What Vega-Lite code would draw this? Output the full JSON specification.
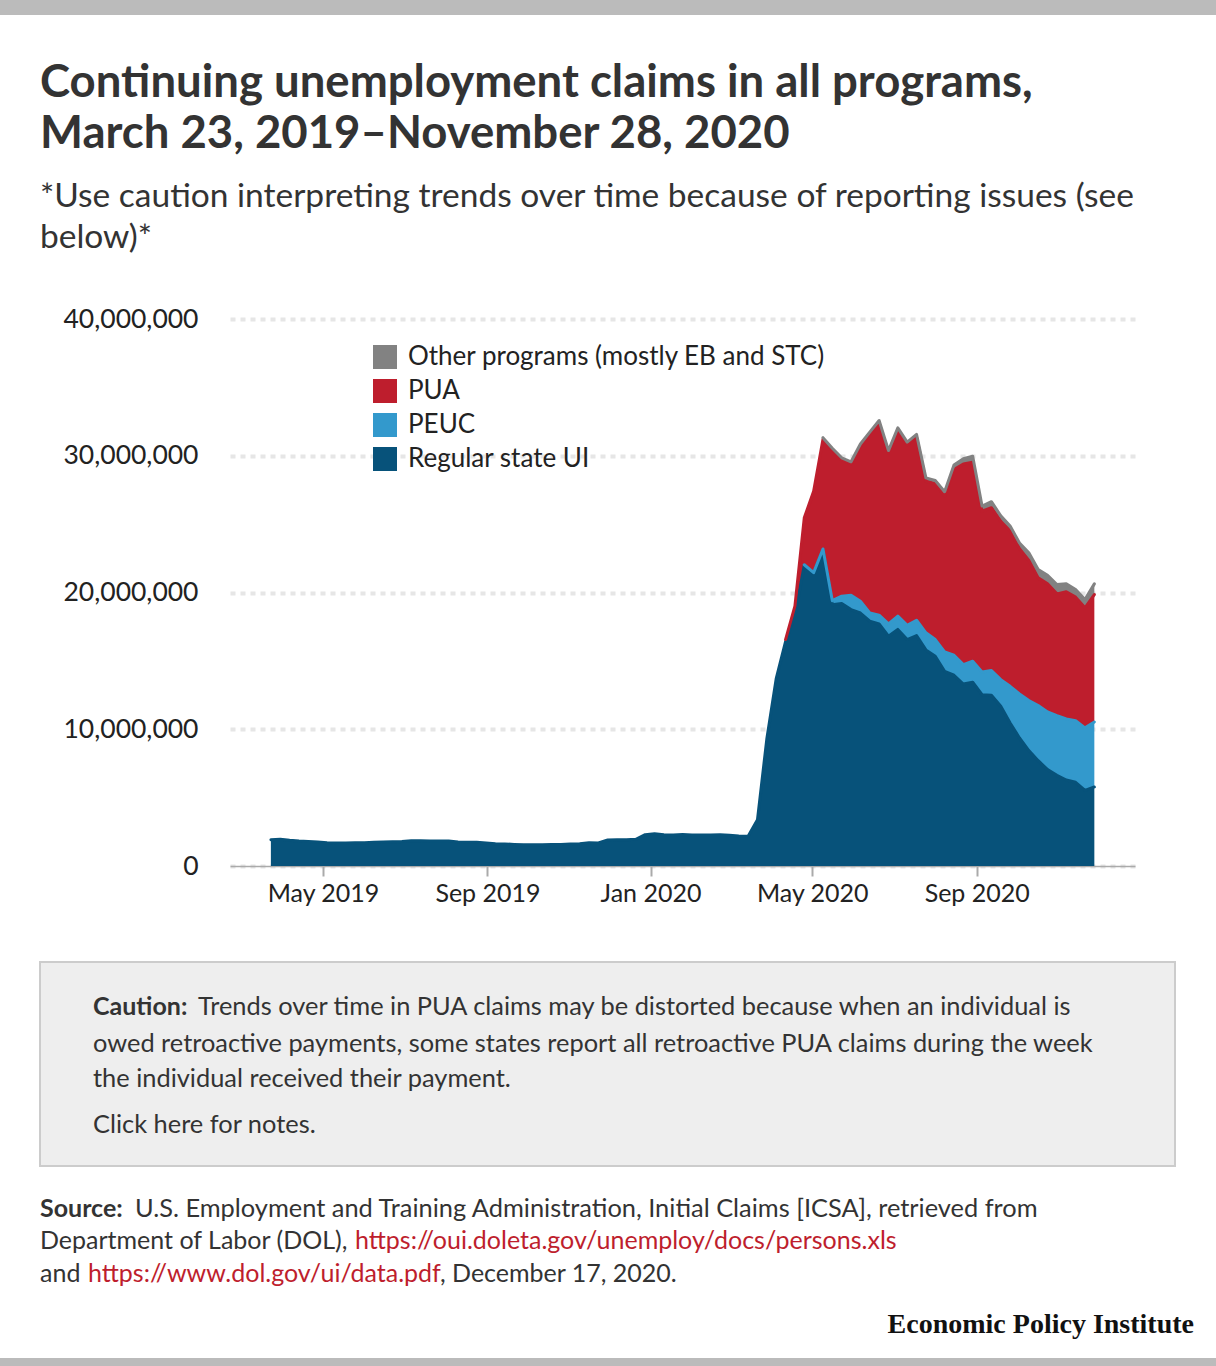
{
  "$schema": "https://vega.github.io/schema/vega-lite/v6.json",
  "width": 905,
  "height": 547,
  "autosize": "none",
  "padding": {"left": 230, "top": 319, "right": 81, "bottom": 500},
  "background": "white",
  "config": {"view": {"stroke": null}, "font": "Lato"},
  "datasets": {
    "claims": [
      {"week": "2019-03-23", "program": "Regular state UI", "claims": 1920000},
      {"week": "2019-03-30", "program": "Regular state UI", "claims": 1950000},
      {"week": "2019-04-06", "program": "Regular state UI", "claims": 1880000},
      {"week": "2019-04-13", "program": "Regular state UI", "claims": 1830000},
      {"week": "2019-04-20", "program": "Regular state UI", "claims": 1800000},
      {"week": "2019-04-27", "program": "Regular state UI", "claims": 1750000},
      {"week": "2019-05-04", "program": "Regular state UI", "claims": 1700000},
      {"week": "2019-05-11", "program": "Regular state UI", "claims": 1680000},
      {"week": "2019-05-18", "program": "Regular state UI", "claims": 1680000},
      {"week": "2019-05-25", "program": "Regular state UI", "claims": 1700000},
      {"week": "2019-06-01", "program": "Regular state UI", "claims": 1700000},
      {"week": "2019-06-08", "program": "Regular state UI", "claims": 1730000},
      {"week": "2019-06-15", "program": "Regular state UI", "claims": 1750000},
      {"week": "2019-06-22", "program": "Regular state UI", "claims": 1780000},
      {"week": "2019-06-29", "program": "Regular state UI", "claims": 1800000},
      {"week": "2019-07-06", "program": "Regular state UI", "claims": 1850000},
      {"week": "2019-07-13", "program": "Regular state UI", "claims": 1850000},
      {"week": "2019-07-20", "program": "Regular state UI", "claims": 1830000},
      {"week": "2019-07-27", "program": "Regular state UI", "claims": 1830000},
      {"week": "2019-08-03", "program": "Regular state UI", "claims": 1830000},
      {"week": "2019-08-10", "program": "Regular state UI", "claims": 1750000},
      {"week": "2019-08-17", "program": "Regular state UI", "claims": 1730000},
      {"week": "2019-08-24", "program": "Regular state UI", "claims": 1730000},
      {"week": "2019-08-31", "program": "Regular state UI", "claims": 1680000},
      {"week": "2019-09-07", "program": "Regular state UI", "claims": 1630000},
      {"week": "2019-09-14", "program": "Regular state UI", "claims": 1610000},
      {"week": "2019-09-21", "program": "Regular state UI", "claims": 1580000},
      {"week": "2019-09-28", "program": "Regular state UI", "claims": 1560000},
      {"week": "2019-10-05", "program": "Regular state UI", "claims": 1560000},
      {"week": "2019-10-12", "program": "Regular state UI", "claims": 1560000},
      {"week": "2019-10-19", "program": "Regular state UI", "claims": 1580000},
      {"week": "2019-10-26", "program": "Regular state UI", "claims": 1580000},
      {"week": "2019-11-02", "program": "Regular state UI", "claims": 1610000},
      {"week": "2019-11-09", "program": "Regular state UI", "claims": 1630000},
      {"week": "2019-11-16", "program": "Regular state UI", "claims": 1700000},
      {"week": "2019-11-23", "program": "Regular state UI", "claims": 1680000},
      {"week": "2019-11-30", "program": "Regular state UI", "claims": 1900000},
      {"week": "2019-12-07", "program": "Regular state UI", "claims": 1920000},
      {"week": "2019-12-14", "program": "Regular state UI", "claims": 1920000},
      {"week": "2019-12-21", "program": "Regular state UI", "claims": 1950000},
      {"week": "2019-12-28", "program": "Regular state UI", "claims": 2290000},
      {"week": "2020-01-04", "program": "Regular state UI", "claims": 2360000},
      {"week": "2020-01-11", "program": "Regular state UI", "claims": 2290000},
      {"week": "2020-01-18", "program": "Regular state UI", "claims": 2270000},
      {"week": "2020-01-25", "program": "Regular state UI", "claims": 2310000},
      {"week": "2020-02-01", "program": "Regular state UI", "claims": 2270000},
      {"week": "2020-02-08", "program": "Regular state UI", "claims": 2270000},
      {"week": "2020-02-15", "program": "Regular state UI", "claims": 2270000},
      {"week": "2020-02-22", "program": "Regular state UI", "claims": 2290000},
      {"week": "2020-02-29", "program": "Regular state UI", "claims": 2240000},
      {"week": "2020-03-07", "program": "Regular state UI", "claims": 2190000},
      {"week": "2020-03-14", "program": "Regular state UI", "claims": 2170000},
      {"week": "2020-03-21", "program": "Regular state UI", "claims": 3390000},
      {"week": "2020-03-28", "program": "Regular state UI", "claims": 9300000},
      {"week": "2020-04-04", "program": "Regular state UI", "claims": 13700000},
      {"week": "2020-04-11", "program": "Regular state UI", "claims": 16400000},
      {"week": "2020-04-18", "program": "Regular state UI", "claims": 18300000},
      {"week": "2020-04-25", "program": "Regular state UI", "claims": 22000000},
      {"week": "2020-05-02", "program": "Regular state UI", "claims": 21400000},
      {"week": "2020-05-09", "program": "Regular state UI", "claims": 23100000},
      {"week": "2020-05-16", "program": "Regular state UI", "claims": 19100000},
      {"week": "2020-05-23", "program": "Regular state UI", "claims": 19200000},
      {"week": "2020-05-30", "program": "Regular state UI", "claims": 18750000},
      {"week": "2020-06-06", "program": "Regular state UI", "claims": 18500000},
      {"week": "2020-06-13", "program": "Regular state UI", "claims": 17900000},
      {"week": "2020-06-20", "program": "Regular state UI", "claims": 17700000},
      {"week": "2020-06-27", "program": "Regular state UI", "claims": 16800000},
      {"week": "2020-07-04", "program": "Regular state UI", "claims": 17300000},
      {"week": "2020-07-11", "program": "Regular state UI", "claims": 16560000},
      {"week": "2020-07-18", "program": "Regular state UI", "claims": 16850000},
      {"week": "2020-07-25", "program": "Regular state UI", "claims": 15800000},
      {"week": "2020-08-01", "program": "Regular state UI", "claims": 15340000},
      {"week": "2020-08-08", "program": "Regular state UI", "claims": 14240000},
      {"week": "2020-08-15", "program": "Regular state UI", "claims": 13950000},
      {"week": "2020-08-22", "program": "Regular state UI", "claims": 13310000},
      {"week": "2020-08-29", "program": "Regular state UI", "claims": 13440000},
      {"week": "2020-09-05", "program": "Regular state UI", "claims": 12530000},
      {"week": "2020-09-12", "program": "Regular state UI", "claims": 12490000},
      {"week": "2020-09-19", "program": "Regular state UI", "claims": 11680000},
      {"week": "2020-09-26", "program": "Regular state UI", "claims": 10460000},
      {"week": "2020-10-03", "program": "Regular state UI", "claims": 9360000},
      {"week": "2020-10-10", "program": "Regular state UI", "claims": 8440000},
      {"week": "2020-10-17", "program": "Regular state UI", "claims": 7700000},
      {"week": "2020-10-24", "program": "Regular state UI", "claims": 7050000},
      {"week": "2020-10-31", "program": "Regular state UI", "claims": 6630000},
      {"week": "2020-11-07", "program": "Regular state UI", "claims": 6290000},
      {"week": "2020-11-14", "program": "Regular state UI", "claims": 6120000},
      {"week": "2020-11-21", "program": "Regular state UI", "claims": 5530000},
      {"week": "2020-11-28", "program": "Regular state UI", "claims": 5780000},
      {"week": "2020-04-25", "program": "PEUC", "claims": 30000},
      {"week": "2020-05-02", "program": "PEUC", "claims": 50000},
      {"week": "2020-05-09", "program": "PEUC", "claims": 80000},
      {"week": "2020-05-16", "program": "PEUC", "claims": 300000},
      {"week": "2020-05-23", "program": "PEUC", "claims": 530000},
      {"week": "2020-05-30", "program": "PEUC", "claims": 1050000},
      {"week": "2020-06-06", "program": "PEUC", "claims": 860000},
      {"week": "2020-06-13", "program": "PEUC", "claims": 600000},
      {"week": "2020-06-20", "program": "PEUC", "claims": 640000},
      {"week": "2020-06-27", "program": "PEUC", "claims": 900000},
      {"week": "2020-07-04", "program": "PEUC", "claims": 970000},
      {"week": "2020-07-11", "program": "PEUC", "claims": 1040000},
      {"week": "2020-07-18", "program": "PEUC", "claims": 1120000},
      {"week": "2020-07-25", "program": "PEUC", "claims": 1250000},
      {"week": "2020-08-01", "program": "PEUC", "claims": 1220000},
      {"week": "2020-08-08", "program": "PEUC", "claims": 1420000},
      {"week": "2020-08-15", "program": "PEUC", "claims": 1460000},
      {"week": "2020-08-22", "program": "PEUC", "claims": 1420000},
      {"week": "2020-08-29", "program": "PEUC", "claims": 1530000},
      {"week": "2020-09-05", "program": "PEUC", "claims": 1660000},
      {"week": "2020-09-12", "program": "PEUC", "claims": 1800000},
      {"week": "2020-09-19", "program": "PEUC", "claims": 1950000},
      {"week": "2020-09-26", "program": "PEUC", "claims": 2680000},
      {"week": "2020-10-03", "program": "PEUC", "claims": 3220000},
      {"week": "2020-10-10", "program": "PEUC", "claims": 3660000},
      {"week": "2020-10-17", "program": "PEUC", "claims": 4030000},
      {"week": "2020-10-24", "program": "PEUC", "claims": 4220000},
      {"week": "2020-10-31", "program": "PEUC", "claims": 4370000},
      {"week": "2020-11-07", "program": "PEUC", "claims": 4460000},
      {"week": "2020-11-14", "program": "PEUC", "claims": 4510000},
      {"week": "2020-11-21", "program": "PEUC", "claims": 4570000},
      {"week": "2020-11-28", "program": "PEUC", "claims": 4750000},
      {"week": "2020-04-11", "program": "PUA", "claims": 160000},
      {"week": "2020-04-18", "program": "PUA", "claims": 700000},
      {"week": "2020-04-25", "program": "PUA", "claims": 3430000},
      {"week": "2020-05-02", "program": "PUA", "claims": 5950000},
      {"week": "2020-05-09", "program": "PUA", "claims": 8020000},
      {"week": "2020-05-16", "program": "PUA", "claims": 11000000},
      {"week": "2020-05-23", "program": "PUA", "claims": 9970000},
      {"week": "2020-05-30", "program": "PUA", "claims": 9600000},
      {"week": "2020-06-06", "program": "PUA", "claims": 11340000},
      {"week": "2020-06-13", "program": "PUA", "claims": 13060000},
      {"week": "2020-06-20", "program": "PUA", "claims": 14060000},
      {"week": "2020-06-27", "program": "PUA", "claims": 12500000},
      {"week": "2020-07-04", "program": "PUA", "claims": 13580000},
      {"week": "2020-07-11", "program": "PUA", "claims": 13200000},
      {"week": "2020-07-18", "program": "PUA", "claims": 13390000},
      {"week": "2020-07-25", "program": "PUA", "claims": 11090000},
      {"week": "2020-08-01", "program": "PUA", "claims": 11390000},
      {"week": "2020-08-08", "program": "PUA", "claims": 11390000},
      {"week": "2020-08-15", "program": "PUA", "claims": 13590000},
      {"week": "2020-08-22", "program": "PUA", "claims": 14670000},
      {"week": "2020-08-29", "program": "PUA", "claims": 14560000},
      {"week": "2020-09-05", "program": "PUA", "claims": 11760000},
      {"week": "2020-09-12", "program": "PUA", "claims": 11910000},
      {"week": "2020-09-19", "program": "PUA", "claims": 11570000},
      {"week": "2020-09-26", "program": "PUA", "claims": 11360000},
      {"week": "2020-10-03", "program": "PUA", "claims": 10620000},
      {"week": "2020-10-10", "program": "PUA", "claims": 10240000},
      {"week": "2020-10-17", "program": "PUA", "claims": 9340000},
      {"week": "2020-10-24", "program": "PUA", "claims": 9360000},
      {"week": "2020-10-31", "program": "PUA", "claims": 8900000},
      {"week": "2020-11-07", "program": "PUA", "claims": 9300000},
      {"week": "2020-11-14", "program": "PUA", "claims": 9030000},
      {"week": "2020-11-21", "program": "PUA", "claims": 8780000},
      {"week": "2020-11-28", "program": "PUA", "claims": 9320000},
      {"week": "2020-05-09", "program": "Other programs (mostly EB and STC)", "claims": 120000},
      {"week": "2020-05-16", "program": "Other programs (mostly EB and STC)", "claims": 150000},
      {"week": "2020-05-23", "program": "Other programs (mostly EB and STC)", "claims": 150000},
      {"week": "2020-05-30", "program": "Other programs (mostly EB and STC)", "claims": 160000},
      {"week": "2020-06-06", "program": "Other programs (mostly EB and STC)", "claims": 160000},
      {"week": "2020-06-13", "program": "Other programs (mostly EB and STC)", "claims": 170000},
      {"week": "2020-06-20", "program": "Other programs (mostly EB and STC)", "claims": 180000},
      {"week": "2020-06-27", "program": "Other programs (mostly EB and STC)", "claims": 180000},
      {"week": "2020-07-04", "program": "Other programs (mostly EB and STC)", "claims": 190000},
      {"week": "2020-07-11", "program": "Other programs (mostly EB and STC)", "claims": 200000},
      {"week": "2020-07-18", "program": "Other programs (mostly EB and STC)", "claims": 200000},
      {"week": "2020-07-25", "program": "Other programs (mostly EB and STC)", "claims": 240000},
      {"week": "2020-08-01", "program": "Other programs (mostly EB and STC)", "claims": 240000},
      {"week": "2020-08-08", "program": "Other programs (mostly EB and STC)", "claims": 320000},
      {"week": "2020-08-15", "program": "Other programs (mostly EB and STC)", "claims": 320000},
      {"week": "2020-08-22", "program": "Other programs (mostly EB and STC)", "claims": 390000},
      {"week": "2020-08-29", "program": "Other programs (mostly EB and STC)", "claims": 440000},
      {"week": "2020-09-05", "program": "Other programs (mostly EB and STC)", "claims": 370000},
      {"week": "2020-09-12", "program": "Other programs (mostly EB and STC)", "claims": 440000},
      {"week": "2020-09-19", "program": "Other programs (mostly EB and STC)", "claims": 410000},
      {"week": "2020-09-26", "program": "Other programs (mostly EB and STC)", "claims": 370000},
      {"week": "2020-10-03", "program": "Other programs (mostly EB and STC)", "claims": 420000},
      {"week": "2020-10-10", "program": "Other programs (mostly EB and STC)", "claims": 560000},
      {"week": "2020-10-17", "program": "Other programs (mostly EB and STC)", "claims": 610000},
      {"week": "2020-10-24", "program": "Other programs (mostly EB and STC)", "claims": 630000},
      {"week": "2020-10-31", "program": "Other programs (mostly EB and STC)", "claims": 680000},
      {"week": "2020-11-07", "program": "Other programs (mostly EB and STC)", "claims": 590000},
      {"week": "2020-11-14", "program": "Other programs (mostly EB and STC)", "claims": 560000},
      {"week": "2020-11-21", "program": "Other programs (mostly EB and STC)", "claims": 610000},
      {"week": "2020-11-28", "program": "Other programs (mostly EB and STC)", "claims": 780000}
    ],
    "programs": [
      {"program": "Regular state UI", "rank": 1},
      {"program": "PEUC", "rank": 2},
      {"program": "PUA", "rank": 3},
      {"program": "Other programs (mostly EB and STC)", "rank": 4}
    ]
  },
  "layer": [
    {
      "data": {"values": [{}]},
      "mark": {"type": "rect", "x": -230, "x2": 986, "y": -319, "y2": -304, "fill": "#bbbbbb"}
    },
    {
      "data": {"values": [{}]},
      "mark": {"type": "rect", "x": -230, "x2": 986, "y": 1039, "y2": 1047, "fill": "#bbbbbb"}
    },
    {
      "data": {"values": [{}]},
      "mark": {"type": "text", "text": "Continuing unemployment claims in all programs,", "x": -190, "y": -222, "align": "left", "baseline": "alphabetic", "font": "Lato", "fontSize": 45.5, "fontWeight": "bold", "fill": "#333333"}
    },
    {
      "data": {"values": [{}]},
      "mark": {"type": "text", "text": "March 23, 2019–November 28, 2020", "x": -190, "y": -171, "align": "left", "baseline": "alphabetic", "font": "Lato", "fontSize": 45.5, "fontWeight": "bold", "fill": "#333333"}
    },
    {
      "data": {"values": [{}]},
      "mark": {"type": "text", "text": "*Use caution interpreting trends over time because of reporting issues (see", "x": -190, "y": -112, "align": "left", "baseline": "alphabetic", "font": "Lato", "fontSize": 33.5, "fill": "#333333"}
    },
    {
      "data": {"values": [{}]},
      "mark": {"type": "text", "text": "below)*", "x": -190, "y": -71, "align": "left", "baseline": "alphabetic", "font": "Lato", "fontSize": 33.5, "fill": "#333333"}
    },
    {
      "data": {"name": "claims"},
      "transform": [
        {"lookup": "program", "from": {"data": {"name": "programs"}, "key": "program", "fields": ["rank"]}},
        {"stack": "claims", "groupby": ["week"], "sort": [{"field": "rank", "order": "ascending"}], "as": ["bottom", "top"]}
      ],
      "encoding": {
        "x": {
          "field": "week",
          "type": "temporal",
          "title": null,
          "scale": {
            "type": "utc",
            "domain": [
              {"year": 2019, "month": 2, "date": 20, "hours": 10, "utc": true},
              {"year": 2020, "month": 12, "date": 28, "hours": 10, "utc": true}
            ]
          },
          "axis": {
            "values": [
              {"year": 2019, "month": 5, "date": 1, "utc": true},
              {"year": 2019, "month": 9, "date": 1, "utc": true},
              {"year": 2020, "month": 1, "date": 1, "utc": true},
              {"year": 2020, "month": 5, "date": 1, "utc": true},
              {"year": 2020, "month": 9, "date": 1, "utc": true}
            ],
            "format": "%b %Y",
            "grid": false,
            "domain": true,
            "domainColor": "#aaaaaa",
            "domainWidth": 1.5,
            "tickColor": "#aaaaaa",
            "tickWidth": 2,
            "tickSize": 10,
            "labelPadding": 5,
            "labelFont": "Lato",
            "labelFontSize": 25,
            "labelColor": "#222222"
          }
        },
        "color": {
          "field": "program",
          "type": "nominal",
          "scale": {
            "domain": ["Other programs (mostly EB and STC)", "PUA", "PEUC", "Regular state UI"],
            "range": ["#828282", "#be1e2d", "#3399cc", "#07527a"]
          },
          "legend": {
            "title": null,
            "orient": "none",
            "legendX": 142,
            "legendY": 25,
            "padding": 0,
            "symbolType": "square",
            "symbolSize": 576,
            "symbolStrokeWidth": 0,
            "symbolOpacity": 1,
            "labelFont": "Lato",
            "labelFontSize": 26,
            "labelColor": "#222222",
            "labelOffset": 10,
            "labelLimit": 0,
            "rowPadding": 8
          }
        }
      },
      "layer": [
        {
          "mark": {"type": "area", "opacity": 1},
          "encoding": {
            "y": {
              "field": "top",
              "type": "quantitative",
              "title": null,
              "scale": {"domain": [0, 40000000], "nice": false},
              "axis": {
                "values": [0, 10000000, 20000000, 30000000, 40000000],
                "format": ",d",
                "domain": false,
                "ticks": false,
                "tickSize": 0,
                "labelPadding": 32,
                "labelFont": "Lato",
                "labelFontSize": 26.5,
                "labelColor": "#222222",
                "grid": true,
                "gridColor": "#e6e6e6",
                "gridWidth": 4,
                "gridDash": [5, 5]
              }
            },
            "y2": {"field": "bottom"}
          }
        },
        {
          "mark": {"type": "line", "strokeWidth": 3, "strokeCap": "round", "strokeJoin": "round"},
          "encoding": {
            "y": {"field": "top", "type": "quantitative"}
          }
        }
      ]
    },
    {
      "data": {"values": [{}]},
      "mark": {"type": "rect", "x": -190, "x2": 945, "y": 643, "y2": 847, "fill": "#eeeeee", "stroke": "#cccccc", "strokeWidth": 2}
    },
    {
      "data": {"values": [{}]},
      "mark": {"type": "text", "text": "Caution:", "x": -137, "y": 696, "align": "left", "baseline": "alphabetic", "font": "Lato", "fontSize": 25, "fontWeight": "bold", "fill": "#333333"}
    },
    {
      "data": {"values": [{}]},
      "mark": {"type": "text", "text": "Trends over time in PUA claims may be distorted because when an individual is", "x": -32, "y": 696, "align": "left", "baseline": "alphabetic", "font": "Lato", "fontSize": 25.4, "fill": "#333333"}
    },
    {
      "data": {"values": [{}]},
      "mark": {"type": "text", "text": "owed retroactive payments, some states report all retroactive PUA claims during the week", "x": -137, "y": 733, "align": "left", "baseline": "alphabetic", "font": "Lato", "fontSize": 25.4, "fill": "#333333"}
    },
    {
      "data": {"values": [{}]},
      "mark": {"type": "text", "text": "the individual received their payment.", "x": -137, "y": 768, "align": "left", "baseline": "alphabetic", "font": "Lato", "fontSize": 25.4, "fill": "#333333"}
    },
    {
      "data": {"values": [{}]},
      "mark": {"type": "text", "text": "Click here for notes.", "x": -137, "y": 814, "align": "left", "baseline": "alphabetic", "font": "Lato", "fontSize": 25.4, "fill": "#333333"}
    },
    {
      "data": {"values": [{}]},
      "mark": {"type": "text", "text": "Source:", "x": -190, "y": 898, "align": "left", "baseline": "alphabetic", "font": "Lato", "fontSize": 25, "fontWeight": "bold", "fill": "#333333"}
    },
    {
      "data": {"values": [{}]},
      "mark": {"type": "text", "text": "U.S. Employment and Training Administration, Initial Claims [ICSA], retrieved from", "x": -95, "y": 898, "align": "left", "baseline": "alphabetic", "font": "Lato", "fontSize": 25.4, "fill": "#333333"}
    },
    {
      "data": {"values": [{}]},
      "mark": {"type": "text", "text": "Department of Labor (DOL),", "x": -190, "y": 930, "align": "left", "baseline": "alphabetic", "font": "Lato", "fontSize": 25, "fill": "#333333"}
    },
    {
      "data": {"values": [{}]},
      "mark": {"type": "text", "text": "https://oui.doleta.gov/unemploy/docs/persons.xls", "x": 125, "y": 930, "align": "left", "baseline": "alphabetic", "font": "Lato", "fontSize": 25, "fill": "#be1e2d"}
    },
    {
      "data": {"values": [{}]},
      "mark": {"type": "text", "text": "and", "x": -190, "y": 963, "align": "left", "baseline": "alphabetic", "font": "Lato", "fontSize": 25, "fill": "#333333"}
    },
    {
      "data": {"values": [{}]},
      "mark": {"type": "text", "text": "https://www.dol.gov/ui/data.pdf", "x": -142, "y": 963, "align": "left", "baseline": "alphabetic", "font": "Lato", "fontSize": 25, "fill": "#be1e2d"}
    },
    {
      "data": {"values": [{}]},
      "mark": {"type": "text", "text": ", December 17, 2020.", "x": 210, "y": 963, "align": "left", "baseline": "alphabetic", "font": "Lato", "fontSize": 25, "fill": "#333333"}
    },
    {
      "data": {"values": [{}]},
      "mark": {"type": "text", "text": "Economic Policy Institute", "x": 964, "y": 1014, "align": "right", "baseline": "alphabetic", "font": "Liberation Serif", "fontSize": 28, "fontWeight": "bold", "fill": "#111111"}
    }
  ]
}
